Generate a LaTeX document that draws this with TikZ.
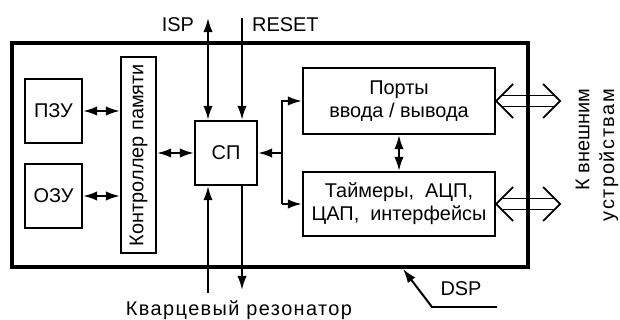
\documentclass[tikz,border=0pt]{standalone}
\usepackage{fontspec}
\setmainfont{Liberation Sans}
\usetikzlibrary{arrows.meta}

\tikzset{
    blk/.style={draw,line width=1.9pt,inner sep=0pt,align=center},
    lnk/.style={line width=1.7pt},
    tip/.style={-{Latex[length=12pt,width=8pt]}},
    tips/.style={{Latex[length=12pt,width=8pt]}-{Latex[length=12pt,width=8pt]}},
}

\begin{document}
\begin{tikzpicture}[x=0.3mm,y=-0.3mm,font=\fontsize{17}{19.6}\selectfont]
    \def\u{0.3mm}
    \useasboundingbox (0,0) rectangle (620,320);

    % chip outline
    \node[draw,line width=3.6pt,minimum width=516*\u,minimum height=224*\u]
        (chip) at (270,155) {};

    % blocks
    \node[blk,rotate=90,minimum width=196*\u,minimum height=35*\u]
        (ctrl) at (138.5,155) {Контроллер памяти};
    \node[blk,minimum width=62*\u,minimum height=64*\u] (cpu) at (226,153) {СП};
    \node[blk,minimum width=192*\u,minimum height=66*\u]
        (ports) at (399,101) {Порты\\ввода / вывода};
    \node[blk,minimum width=192*\u,minimum height=64*\u]
        (timers) at (399,204) {Таймеры,\ \ АЦП,\\ЦАП,\ \ интерфейсы};

    \foreach \name/\txt/\yc in {pzu/ПЗУ/111,ozu/ОЗУ/196} {
        \node[blk,minimum width=57*\u,minimum height=64*\u]
            (\name) at (53.5,\yc) {\txt};
        \draw[lnk,tips] (\name.east) -- (\name.east -| ctrl.north);
    }
    \draw[lnk,tips] (cpu.west -| ctrl.south) -- (cpu.west);

    % control lines
    \coordinate (isp) at (208,18);
    \coordinate (rst) at (242,18);
    \coordinate (xin) at (208,293);
    \coordinate (xout) at (242,290);
    \draw[lnk,tips] (isp) -- (isp |- cpu.north);
    \draw[lnk,tip] (rst) -- (rst |- cpu.north);
    \draw[lnk,tip] (xin) -- (xin |- cpu.south);
    \draw[lnk,tip] (xout |- cpu.south) -- (xout);
    \node[anchor=east] (isplbl) at (198,25) {ISP};
    \node[anchor=west] (rstlbl) at (248,25) {RESET};
    \node (xtal) at (239,310)
        {\addfontfeatures{LetterSpace=7}Кварцевый резонатор};

    % internal bus
    \coordinate (bus) at (282,153);
    \draw[lnk,tip] (bus) -- (cpu.east);
    \draw[lnk,tip] (bus |- timers.west) -- (bus |- ports.west) -- (ports.west);
    \draw[lnk,tip] (bus |- timers.west) -- (timers.west);
    \draw[lnk,tips] (ports.south) -- (timers.north);

    % external ports
    \foreach \blkname in {ports,timers} {
        \begin{scope}[shift={(\blkname.east)},line width=1.5pt]
            \draw (17,-17) -- (0,0) -- (17,17);
            \draw (47,-17) -- (64,0) -- (47,17);
            \draw (5.5,-5.5) -- (58.5,-5.5);
            \draw (5.5,5.5) -- (58.5,5.5);
        \end{scope}
    }
    \node[rotate=90,align=right,font=\fontsize{17}{21}\selectfont]
        (ext) at (597,155)
        {К внешним\\{\addfontfeatures{LetterSpace=8}устройствам}};

    % label
    \coordinate (dspend) at (497,307);
    \coordinate (dspkink) at (432,307);
    \coordinate (dsptip) at (403,269);
    \draw[lnk,tip] (dspend) -- (dspkink) -- (dsptip);
    \node (dsp) at (461,289) {DSP};
\end{tikzpicture}
\end{document}
